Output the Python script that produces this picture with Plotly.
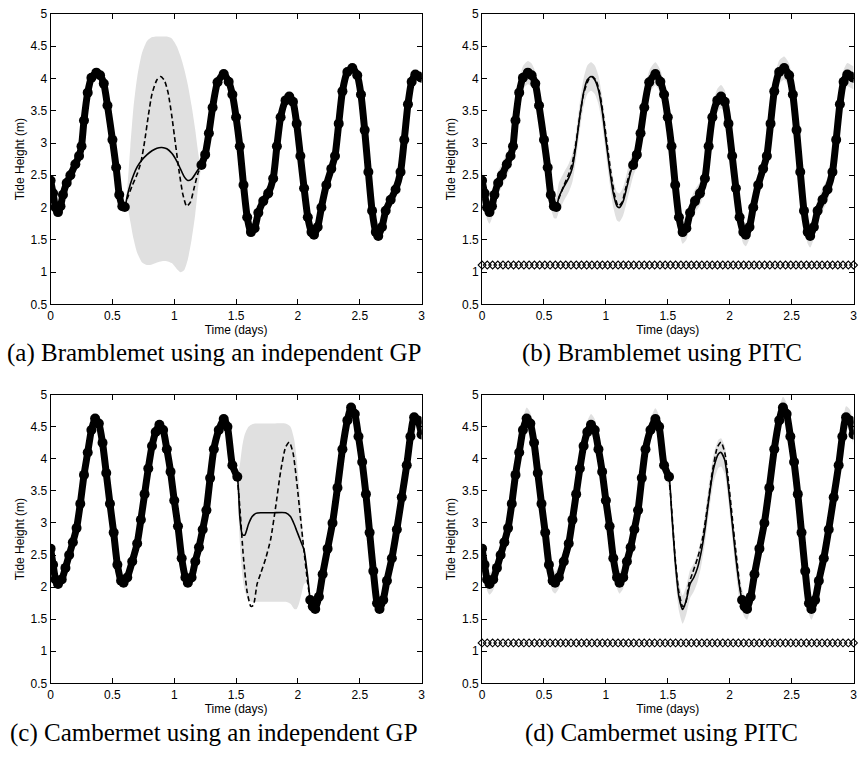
import plotly.graph_objects as go

# ---------------- data ----------------
# Bramblemet: true tide height (observed outside the gap, "truth" inside it)
BRAM_T = [0.00, 0.02, 0.04, 0.06, 0.08, 0.10, 0.13, 0.16, 0.20, 0.23, 0.25, 0.27, 0.30, 0.33,
          0.37, 0.40, 0.43, 0.46, 0.50, 0.53, 0.555, 0.58, 0.60,
          0.62, 0.66, 0.70, 0.73, 0.76, 0.79, 0.82, 0.86, 0.89, 0.92, 0.95, 0.98, 1.01, 1.04,
          1.07, 1.10, 1.13, 1.16, 1.19, 1.22,
          1.25, 1.28, 1.31, 1.35, 1.40, 1.44, 1.47, 1.50, 1.53, 1.56, 1.59, 1.62, 1.65, 1.68,
          1.72, 1.76, 1.80, 1.83, 1.86, 1.90, 1.93, 1.96, 1.99, 2.02, 2.05, 2.08, 2.11, 2.13,
          2.16, 2.19, 2.23, 2.27, 2.30, 2.33, 2.36, 2.40, 2.44, 2.48, 2.51, 2.54, 2.57, 2.60,
          2.63, 2.65, 2.68, 2.71, 2.75, 2.79, 2.83, 2.86, 2.89, 2.92, 2.95, 2.98, 3.00]
BRAM_H = [2.42, 2.22, 2.00, 1.93, 2.02, 2.20, 2.38, 2.50, 2.67, 2.80, 2.95, 3.35, 3.78, 4.01,
          4.09, 4.05, 3.92, 3.58, 3.05, 2.62, 2.20, 2.02, 2.01,
          2.14, 2.34, 2.52, 2.70, 3.02, 3.42, 3.76, 3.98, 4.03, 3.97, 3.78, 3.42, 2.98, 2.55,
          2.20, 2.02, 2.08, 2.30, 2.52, 2.66,
          2.82, 3.15, 3.55, 3.94, 4.07, 3.95, 3.75, 3.40, 2.95, 2.35, 1.85, 1.62, 1.68, 1.92,
          2.10, 2.22, 2.45, 2.95, 3.40, 3.66, 3.72, 3.64, 3.30, 2.80, 2.30, 1.85, 1.62, 1.58,
          1.70, 2.00, 2.35, 2.60, 2.80, 3.30, 3.80, 4.10, 4.16, 4.05, 3.75, 3.20, 2.55, 1.95,
          1.62, 1.56, 1.70, 1.95, 2.12, 2.28, 2.55, 3.05, 3.60, 3.95, 4.06, 4.03, 4.01]
BRAM_GAP = [0.60, 1.22]

# Bramblemet, independent GP prediction inside the gap
BRAM_GP_T = [0.60, 0.62, 0.645, 0.67, 0.70, 0.74, 0.78, 0.82, 0.86, 0.90, 0.94, 0.98,
             1.02, 1.05, 1.08, 1.11, 1.14, 1.17, 1.20, 1.22]
BRAM_GP_MEAN = [2.01, 2.18, 2.36, 2.50, 2.63, 2.74, 2.82, 2.88, 2.92, 2.93, 2.91, 2.84,
                2.72, 2.60, 2.48, 2.42, 2.44, 2.52, 2.61, 2.66]
BRAM_GP_UP = [2.05, 2.30, 2.95, 3.55, 4.02, 4.40, 4.58, 4.64, 4.65, 4.65, 4.65, 4.62,
              4.50, 4.35, 4.15, 3.90, 3.58, 3.20, 2.78, 2.66]
BRAM_GP_LO = [2.00, 2.00, 1.78, 1.52, 1.30, 1.15, 1.11, 1.12, 1.15, 1.17, 1.17, 1.14,
              1.05, 1.00, 1.03, 1.20, 1.50, 1.90, 2.42, 2.64]

# Bramblemet, PITC prediction inside the gap
BRAM_PITC_T = [0.62, 0.66, 0.70, 0.73, 0.76, 0.79, 0.82, 0.85, 0.88, 0.91, 0.94, 0.97,
               1.00, 1.03, 1.06, 1.09, 1.11, 1.14, 1.17, 1.20]
BRAM_PITC_MEAN = [2.16, 2.32, 2.46, 2.62, 2.98, 3.42, 3.78, 3.98, 4.03, 3.98, 3.82, 3.50,
                  3.05, 2.60, 2.22, 2.02, 2.00, 2.10, 2.32, 2.55]
BRAM_PITC_SD_OBS = 0.18
BRAM_PITC_SD_GAP = 0.22
BRAM_PSEUDO_Y = 1.11

# Cambermet: true tide height
CAMB_T = [0.00, 0.02, 0.04, 0.06, 0.09, 0.12, 0.15, 0.18, 0.21, 0.24, 0.27, 0.30, 0.33, 0.36,
          0.39, 0.42, 0.45, 0.48, 0.51, 0.54, 0.57, 0.59, 0.62, 0.66, 0.70, 0.73, 0.76, 0.79,
          0.82, 0.85, 0.88, 0.91, 0.94, 0.97, 1.00, 1.03, 1.06, 1.09, 1.11, 1.14, 1.17, 1.20,
          1.23, 1.26, 1.29, 1.32, 1.36, 1.40, 1.43, 1.47, 1.51,
          1.53, 1.56, 1.59, 1.62, 1.64, 1.67, 1.70, 1.74, 1.78, 1.82, 1.86, 1.90, 1.93, 1.96,
          1.99, 2.02, 2.05, 2.08,
          2.10, 2.12, 2.14, 2.17, 2.20, 2.24, 2.28, 2.32, 2.36, 2.40, 2.43, 2.46, 2.49, 2.52,
          2.55, 2.58, 2.61, 2.64, 2.66, 2.69, 2.72, 2.76, 2.80, 2.84, 2.88, 2.91, 2.94, 2.97, 3.00]
CAMB_H = [2.60, 2.35, 2.12, 2.05, 2.12, 2.30, 2.50, 2.70, 2.92, 3.30, 3.75, 4.10, 4.45, 4.63,
          4.55, 4.25, 3.78, 3.30, 2.85, 2.35, 2.10, 2.07, 2.15, 2.40, 2.68, 3.05, 3.45, 3.85,
          4.20, 4.42, 4.53, 4.45, 4.15, 3.80, 3.35, 2.95, 2.45, 2.15, 2.07, 2.15, 2.40, 2.62,
          2.90, 3.20, 3.70, 4.15, 4.45, 4.62, 4.50, 3.90, 3.72,
          3.25, 2.45, 1.92, 1.70, 1.72, 2.05, 2.22, 2.45, 2.75, 3.25, 3.80, 4.18, 4.26, 4.10,
          3.65, 3.10, 2.55, 2.05,
          1.80, 1.70, 1.66, 1.85, 2.20, 2.60, 3.00, 3.55, 4.15, 4.60, 4.80, 4.70, 4.35, 3.95,
          3.45, 2.85, 2.25, 1.75, 1.66, 1.80, 2.10, 2.45, 2.90, 3.40, 3.90, 4.35, 4.65, 4.60, 4.38]
CAMB_GAP = [1.51, 2.10]

# Cambermet, independent GP prediction inside the gap
CAMB_GP_T = [1.51, 1.53, 1.55, 1.57, 1.60, 1.63, 1.66, 1.70, 1.80, 1.90, 1.94, 1.97,
             1.99, 2.01, 2.03, 2.05, 2.08, 2.10]
CAMB_GP_MEAN = [3.72, 3.10, 2.82, 2.81, 2.98, 3.10, 3.15, 3.16, 3.16, 3.16, 3.10, 2.98,
                2.88, 2.78, 2.68, 2.58, 2.15, 1.80]
CAMB_GP_UP = [3.72, 3.90, 4.20, 4.38, 4.50, 4.54, 4.55, 4.55, 4.55, 4.55, 4.50, 4.30,
              4.00, 3.60, 3.10, 2.60, 2.12, 1.82]
CAMB_GP_LO = [3.60, 2.70, 2.20, 1.95, 1.80, 1.77, 1.77, 1.77, 1.77, 1.77, 1.74, 1.66,
              1.66, 1.75, 1.90, 2.05, 2.08, 1.78]

# Cambermet, PITC prediction inside the gap
CAMB_PITC_T = [1.53, 1.56, 1.59, 1.62, 1.65, 1.68, 1.71, 1.74, 1.77, 1.80, 1.83, 1.87,
               1.91, 1.93, 1.96, 1.99, 2.02, 2.05, 2.08]
CAMB_PITC_MEAN = [3.20, 2.40, 1.85, 1.65, 1.80, 2.05, 2.15, 2.30, 2.55, 2.90, 3.35, 3.85,
                  4.08, 4.10, 3.98, 3.55, 3.00, 2.45, 2.00]
CAMB_PITC_SD_OBS = 0.17
CAMB_PITC_SD_GAP = 0.22
CAMB_PSEUDO_Y = 1.13

# PITC pseudo-input locations (days)
PSEUDO_X = [0.0, 0.042, 0.085, 0.127, 0.169, 0.211, 0.254, 0.296, 0.338, 0.380, 0.423, 0.465,
            0.507, 0.549, 0.592, 0.634, 0.676, 0.718, 0.761, 0.803, 0.845, 0.887, 0.930, 0.972,
            1.014, 1.056, 1.099, 1.141, 1.183, 1.225, 1.268, 1.310, 1.352, 1.394, 1.437, 1.479,
            1.521, 1.563, 1.606, 1.648, 1.690, 1.732, 1.775, 1.817, 1.859, 1.901, 1.944, 1.986,
            2.028, 2.070, 2.113, 2.155, 2.197, 2.239, 2.282, 2.324, 2.366, 2.408, 2.451, 2.493,
            2.535, 2.577, 2.620, 2.662, 2.704, 2.746, 2.789, 2.831, 2.873, 2.915, 2.958, 3.0]

CAPTIONS = ["(a) Bramblemet using an independent GP", "(b) Bramblemet using PITC",
            "(c) Cambermet using an independent GP", "(d) Cambermet using PITC"]
X_TITLE = "Time (days)"
Y_TITLE = "Tide Height (m)"

# ---------------- helpers ----------------
BAND = "#e0e0e0"
BLACK = "black"


def observed(T, H, gap):
    before = [(t, h) for t, h in zip(T, H) if t <= gap[0]]
    after = [(t, h) for t, h in zip(T, H) if t >= gap[1]]
    xs = [p[0] for p in before] + [None] + [p[0] for p in after]
    ys = [p[1] for p in before] + [None] + [p[1] for p in after]
    return xs, ys


def truth_gap(T, H, gap):
    pts = [(t, h) for t, h in zip(T, H) if gap[0] <= t <= gap[1]]
    return [p[0] for p in pts], [p[1] for p in pts]


def merged(T, H, gap, gT, gM):
    pts = [(t, h, 0) for t, h in zip(T, H) if t <= gap[0] or t >= gap[1]]
    pts += [(t, m, 1) for t, m in zip(gT, gM) if gap[0] < t < gap[1]]
    pts.sort(key=lambda p: p[0])
    return [p[0] for p in pts], [p[1] for p in pts], [p[2] for p in pts]


fig = go.Figure()


def add_obs(T, H, gap, ax):
    ox, oy = observed(T, H, gap)
    fig.add_trace(go.Scatter(x=ox, y=oy, mode="lines+markers", xaxis="x" + ax, yaxis="y" + ax,
                             line=dict(color=BLACK, width=7, shape="spline", smoothing=0.6),
                             marker=dict(color=BLACK, size=10), connectgaps=False,
                             showlegend=False, hoverinfo="skip"))


def add_truth(T, H, gap, ax):
    tx, ty = truth_gap(T, H, gap)
    fig.add_trace(go.Scatter(x=tx, y=ty, mode="lines", xaxis="x" + ax, yaxis="y" + ax,
                             line=dict(color=BLACK, width=1.6, dash="5px,3px", shape="spline",
                                       smoothing=0.6),
                             showlegend=False, hoverinfo="skip"))


def gp_panel(T, H, gap, gT, gM, gU, gL, ax):
    fig.add_trace(go.Scatter(x=gT, y=gL, mode="lines", xaxis="x" + ax, yaxis="y" + ax,
                             line=dict(width=0, shape="spline", smoothing=0.6),
                             showlegend=False, hoverinfo="skip"))
    fig.add_trace(go.Scatter(x=gT, y=gU, mode="lines", xaxis="x" + ax, yaxis="y" + ax,
                             line=dict(width=0, shape="spline", smoothing=0.6),
                             fill="tonexty", fillcolor=BAND, showlegend=False, hoverinfo="skip"))
    add_truth(T, H, gap, ax)
    mx, my, _ = merged(T, H, gap, gT, gM)
    fig.add_trace(go.Scatter(x=mx, y=my, mode="lines", xaxis="x" + ax, yaxis="y" + ax,
                             line=dict(color=BLACK, width=1.6, shape="spline", smoothing=0.6),
                             showlegend=False, hoverinfo="skip"))
    add_obs(T, H, gap, ax)


def pitc_panel(T, H, gap, pT, pM, sd_obs, sd_gap, pseudo_y, ax):
    mx, my, flag = merged(T, H, gap, pT, pM)
    up = [m + (sd_gap if f else sd_obs) for m, f in zip(my, flag)]
    lo = [m - (sd_gap if f else sd_obs) for m, f in zip(my, flag)]
    fig.add_trace(go.Scatter(x=mx, y=lo, mode="lines", xaxis="x" + ax, yaxis="y" + ax,
                             line=dict(width=0, shape="spline", smoothing=0.6),
                             showlegend=False, hoverinfo="skip"))
    fig.add_trace(go.Scatter(x=mx, y=up, mode="lines", xaxis="x" + ax, yaxis="y" + ax,
                             line=dict(width=0, shape="spline", smoothing=0.6),
                             fill="tonexty", fillcolor=BAND, showlegend=False, hoverinfo="skip"))
    add_truth(T, H, gap, ax)
    fig.add_trace(go.Scatter(x=mx, y=my, mode="lines", xaxis="x" + ax, yaxis="y" + ax,
                             line=dict(color=BLACK, width=1.6, shape="spline", smoothing=0.6),
                             showlegend=False, hoverinfo="skip"))
    add_obs(T, H, gap, ax)
    fig.add_trace(go.Scatter(x=PSEUDO_X, y=[pseudo_y] * len(PSEUDO_X), mode="markers",
                             xaxis="x" + ax, yaxis="y" + ax,
                             marker=dict(symbol="diamond-open", size=6, color=BLACK,
                                         line=dict(width=1.1, color=BLACK)),
                             showlegend=False, hoverinfo="skip", cliponaxis=False))


gp_panel(BRAM_T, BRAM_H, BRAM_GAP, BRAM_GP_T, BRAM_GP_MEAN, BRAM_GP_UP, BRAM_GP_LO, "")
pitc_panel(BRAM_T, BRAM_H, BRAM_GAP, BRAM_PITC_T, BRAM_PITC_MEAN, BRAM_PITC_SD_OBS,
           BRAM_PITC_SD_GAP, BRAM_PSEUDO_Y, "2")
gp_panel(CAMB_T, CAMB_H, CAMB_GAP, CAMB_GP_T, CAMB_GP_MEAN, CAMB_GP_UP, CAMB_GP_LO, "3")
pitc_panel(CAMB_T, CAMB_H, CAMB_GAP, CAMB_PITC_T, CAMB_PITC_MEAN, CAMB_PITC_SD_OBS,
           CAMB_PITC_SD_GAP, CAMB_PSEUDO_Y, "4")

# ---------------- layout ----------------
W, H_ = 859, 761
FONT = "Liberation Sans, Arial, Helvetica, sans-serif"
SERIF = "Liberation Serif, Times New Roman, serif"


def px_x(a, b):
    return [a / W, b / W]


def px_y(top, bottom):
    return [1 - bottom / H_, 1 - top / H_]


XDOM = [px_x(48, 422), px_x(483, 857.5)]
YDOM = [px_y(7, 303), px_y(395, 689)]

axis_common = dict(showline=True, linecolor=BLACK, linewidth=1, mirror="ticks",
                   ticks="inside", ticklen=5, tickcolor=BLACK, tickwidth=1,
                   showgrid=False, zeroline=False,
                   tickfont=dict(family=FONT, size=12, color=BLACK))

layout = dict(width=W, height=H_, margin=dict(l=0, r=0, t=0, b=0),
              paper_bgcolor="white", plot_bgcolor="white", showlegend=False)

names = ["", "2", "3", "4"]
for i, n in enumerate(names):
    col = i % 2
    row = i // 2
    layout["xaxis" + n] = dict(axis_common, domain=XDOM[col], range=[0, 3], tick0=0, dtick=0.5,
                               anchor="y" + n,
                               title=dict(text=X_TITLE, standoff=0,
                                          font=dict(family=FONT, size=12, color=BLACK)))
    layout["yaxis" + n] = dict(axis_common, domain=YDOM[row], range=[0.5, 5], tick0=0.5,
                               dtick=0.5, anchor="x" + n,
                               title=dict(text=Y_TITLE, standoff=3,
                                          font=dict(family=FONT, size=12, color=BLACK)))

cap_pos = [(213, 352), (664, 352), (213, 740), (664, 740)]
annotations = []
for text, (cx, cy) in zip(CAPTIONS, cap_pos):
    annotations.append(dict(text=text, x=cx / W, y=1 - cy / H_, xref="paper", yref="paper",
                            showarrow=False, xanchor="center", yanchor="middle",
                            font=dict(family=SERIF, size=25, color=BLACK)))
layout["annotations"] = annotations

fig.update_layout(**layout)
fig.write_html("out.html", config={"displayModeBar": False},
               post_script="document.body.style.margin='0';document.body.style.padding='0';"
                           "document.body.style.overflow='hidden';")
